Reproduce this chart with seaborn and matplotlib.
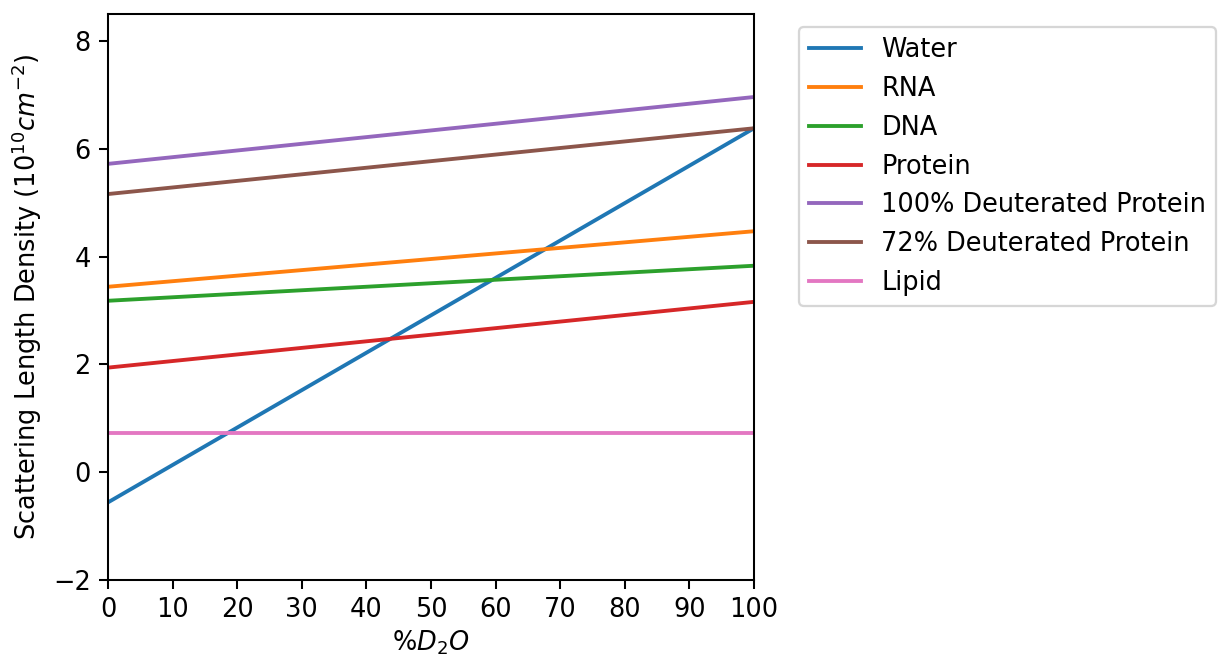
import matplotlib
matplotlib.use("Agg")
import matplotlib.pyplot as plt
import seaborn as sns
import pandas as pd

# Data
d2o_percent = [0, 100]
materials = ["Water", "RNA", "DNA", "Protein", "100% Deuterated Protein",
             "72% Deuterated Protein", "Lipid"]
sld_at_0 = [-0.56, 3.44, 3.18, 1.94, 5.72, 5.16, 0.72]
sld_at_100 = [6.38, 4.47, 3.83, 3.16, 6.96, 6.38, 0.72]

rows = []
for name, a, b in zip(materials, sld_at_0, sld_at_100):
    rows.append({"D2O": d2o_percent[0], "SLD": a, "Material": name})
    rows.append({"D2O": d2o_percent[1], "SLD": b, "Material": name})
df = pd.DataFrame(rows)

s = 1.12
plt.rcParams.update({
    "font.size": 10 * s,
    "axes.linewidth": 0.8 * s,
    "xtick.major.width": 0.8 * s,
    "ytick.major.width": 0.8 * s,
    "xtick.major.size": 3.5 * s,
    "ytick.major.size": 3.5 * s,
    "legend.handlelength": 2.0,
})

dpi = 165
fig = plt.figure(figsize=(1222 / dpi, 657 / dpi), dpi=dpi)
ax = fig.add_axes([108 / 1222, (657 - 580) / 657, 646 / 1222, 566 / 657])

palette = sns.color_palette("tab10", len(materials))
sns.lineplot(data=df, x="D2O", y="SLD", hue="Material", hue_order=materials,
             palette=palette, ax=ax, linewidth=1.5 * s)

ax.set_xlim(0, 100)
ax.set_ylim(-2, 8.5)
ax.set_xticks(range(0, 101, 10))
ax.set_yticks([-2, 0, 2, 4, 6, 8])
ax.set_xlabel(r"$\%D_2O$", labelpad=2.5)
ax.set_ylabel(r"Scattering Length Density ($10^{10} cm^{-2}$)")

handles, labels = ax.get_legend_handles_labels()
ax.legend(handles, labels, bbox_to_anchor=(1.05, 1), loc="upper left",
          borderaxespad=0.5)

fig.savefig("out.png", dpi=dpi)
